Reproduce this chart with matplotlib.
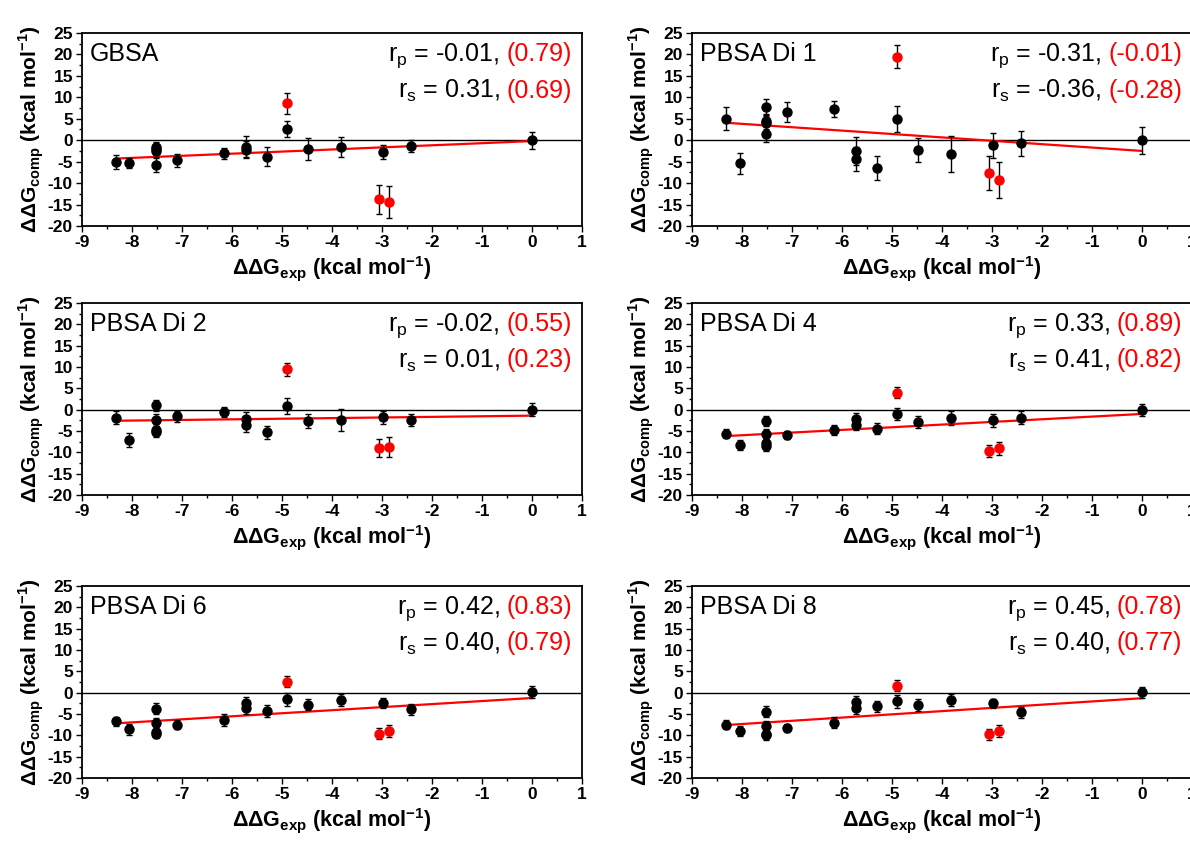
import numpy as np
import matplotlib
matplotlib.use("Agg")
import matplotlib.pyplot as plt
from matplotlib.ticker import MultipleLocator

plt.rcParams['font.family'] = ['Liberation Sans', 'DejaVu Sans']
plt.rcParams['mathtext.fontset'] = 'custom'
plt.rcParams['mathtext.rm'] = 'Liberation Sans'
plt.rcParams['mathtext.bf'] = 'Liberation Sans:bold'
plt.rcParams['axes.unicode_minus'] = False

# experimental ddG, shared by every panel
x_black = [-8.33, -8.05, -7.52, -7.52, -7.52, -7.52, -7.10, -6.17, -5.72, -5.72,
           -5.30, -4.90, -4.48, -3.82, -2.98, -2.42, 0.0]
x_red = [-4.90, -3.07, -2.87]

methods = ["GBSA", "PBSA Di 1", "PBSA Di 2", "PBSA Di 4", "PBSA Di 6", "PBSA Di 8"]

# computed ddG (black = kept, red = outliers)
y_gbsa = [-5.1, -5.3, -1.5, -2.0, -2.6, -5.8, -4.7, -3.0, -1.5, -2.2, -3.8, 2.6, -2.1, -1.6, -2.7, -1.3, 0.0]
y_di1 = [5.0, -5.4, 7.7, 4.4, 3.9, 1.5, 6.5, 7.2, -2.5, -4.3, -6.5, 5.0, -2.3, -3.2, -1.2, -0.7, 0.0]
y_di2 = [-1.9, -7.1, 1.0, -2.4, -4.7, -5.2, -1.6, -0.6, -2.3, -3.7, -5.3, 0.9, -2.6, -2.5, -1.8, -2.5, 0.0]
y_di4 = [-5.6, -8.3, -2.6, -5.6, -7.9, -8.4, -6.0, -4.8, -2.3, -3.5, -4.5, -1.0, -2.9, -2.0, -2.5, -1.9, 0.0]
y_di6 = [-6.7, -8.6, -3.8, -7.2, -9.2, -9.6, -7.5, -6.4, -2.4, -3.7, -4.3, -1.6, -2.8, -1.8, -2.4, -3.9, 0.1]
y_di8 = [-7.5, -9.0, -4.5, -7.8, -9.6, -10.0, -8.3, -7.0, -2.3, -3.7, -3.2, -2.0, -2.9, -1.7, -2.5, -4.6, 0.1]

e_gbsa = [1.6, 1.1, 1.2, 1.2, 1.2, 1.6, 1.5, 1.3, 2.5, 2.0, 2.3, 1.9, 2.6, 2.3, 1.6, 1.4, 2.0]
e_di1 = [2.7, 2.4, 1.8, 1.8, 1.8, 1.8, 2.3, 1.9, 3.2, 2.8, 2.8, 3.0, 2.8, 4.1, 2.9, 2.9, 3.1]
e_di2 = [1.5, 1.6, 1.3, 1.4, 1.3, 1.3, 1.4, 1.2, 1.8, 1.6, 1.5, 1.8, 1.6, 2.6, 1.5, 1.4, 1.5]
e_di4 = [1.0, 1.2, 1.2, 1.0, 1.1, 1.2, 0.9, 1.2, 1.6, 1.3, 1.3, 1.5, 1.3, 1.6, 1.5, 1.5, 1.4]
e_di6 = [1.0, 1.3, 1.3, 1.2, 1.1, 1.0, 1.0, 1.3, 1.5, 1.2, 1.3, 1.5, 1.3, 1.4, 1.2, 1.3, 1.4]
e_di8 = [1.0, 1.2, 1.3, 1.2, 1.1, 1.1, 1.0, 1.3, 1.5, 1.2, 1.3, 1.5, 1.3, 1.4, 1.1, 1.3, 1.3]

yr_gbsa = [8.6, -13.8, -14.4]
yr_di1 = [19.5, -7.7, -9.3]
yr_di2 = [9.5, -9.0, -8.8]
yr_di4 = [4.0, -9.7, -9.1]
yr_di6 = [2.6, -9.6, -9.0]
yr_di8 = [1.6, -9.7, -9.0]

er_gbsa = [2.5, 3.4, 3.7]
er_di1 = [2.6, 4.0, 4.2]
er_di2 = [1.5, 2.2, 2.3]
er_di4 = [1.2, 1.5, 1.6]
er_di6 = [1.3, 1.3, 1.4]
er_di8 = [1.3, 1.3, 1.4]

# linear fits (slope, intercept)
fit_slope = [0.49, -0.79, 0.144, 0.624, 0.714, 0.756]
fit_icpt = [-0.2, -2.5, -1.4, -1.0, -1.25, -1.3]

rp = ["-0.01", "-0.31", "-0.02", "0.33", "0.42", "0.45"]
rp_all = ["0.79", "-0.01", "0.55", "0.89", "0.83", "0.78"]
rs = ["0.31", "-0.36", "0.01", "0.41", "0.40", "0.40"]
rs_all = ["0.69", "-0.28", "0.23", "0.82", "0.79", "0.77"]

ys = [y_gbsa, y_di1, y_di2, y_di4, y_di6, y_di8]
es = [e_gbsa, e_di1, e_di2, e_di4, e_di6, e_di8]
yrs = [yr_gbsa, yr_di1, yr_di2, yr_di4, yr_di6, yr_di8]
ers = [er_gbsa, er_di1, er_di2, er_di4, er_di6, er_di8]

fig = plt.figure(figsize=(11.9, 8.42), dpi=100)
W, H = 1190, 842
lefts = [82, 692]
tops = [33, 303, 586]
bottoms = [226, 495, 778]

renderer = fig.canvas.get_renderer()


def corr_line(ax, y, name, black, red):
    r = ax.text(0.98, y, "(" + red + ")", transform=ax.transAxes, ha='right',
                va='baseline', color='red', fontsize=18)
    bb = r.get_window_extent(renderer)
    # leave a space-wide gap before the bracket
    x0 = ax.transAxes.inverted().transform((bb.x0 - 7, bb.y0))[0]
    ax.text(x0, y, "r$_\\mathregular{" + name + "}$ = " + black + ",",
            transform=ax.transAxes, ha='right', va='baseline', color='black', fontsize=18)


for i in range(6):
    row, col = divmod(i, 2)
    l = lefts[col]
    ax = fig.add_axes([l / W, 1 - bottoms[row] / H, 500 / W, (bottoms[row] - tops[row]) / H])
    ax.set_xlim(-9, 1)
    ax.set_ylim(-20, 25)
    ax.axhline(0, color='black', lw=1.0, zorder=1)

    xf = np.array([-8.33, 0.0])
    ax.plot(xf, fit_slope[i] * xf + fit_icpt[i], color='red', lw=1.6, zorder=2)

    ax.errorbar(x_black, ys[i], yerr=es[i], fmt='o', color='black', ms=6.5,
                ecolor='black', elinewidth=1, capsize=2.5, capthick=1, zorder=3)
    ax.errorbar(x_red, yrs[i], yerr=ers[i], fmt='o', color='red', mec='red', ms=6.5,
                ecolor='black', elinewidth=1, capsize=2.5, capthick=1, zorder=3)

    ax.xaxis.set_major_locator(MultipleLocator(1))
    ax.xaxis.set_minor_locator(MultipleLocator(0.5))
    ax.yaxis.set_major_locator(MultipleLocator(5))
    ax.yaxis.set_minor_locator(MultipleLocator(2.5))
    ax.tick_params(which='major', direction='out', length=4, width=1, labelsize=12.5, pad=2.5)
    ax.tick_params(which='minor', direction='out', length=2.5, width=1)
    for lab in ax.get_xticklabels() + ax.get_yticklabels():
        lab.set_fontweight('bold')
    for sp in ax.spines.values():
        sp.set_linewidth(1.3)

    ax.set_xlabel("ΔΔG$_\\mathbf{exp}$ (kcal mol$^\\mathbf{-1}$)", fontsize=15.5,
                  fontweight='bold', labelpad=3)
    ax.set_ylabel("ΔΔG$_\\mathbf{comp}$ (kcal mol$^\\mathbf{-1}$)", fontsize=15,
                  fontweight='bold', labelpad=1)

    ax.text(0.016, 0.855, methods[i], transform=ax.transAxes, ha='left',
            va='baseline', fontsize=18)
    corr_line(ax, 0.855, "p", rp[i], rp_all[i])
    corr_line(ax, 0.665, "s", rs[i], rs_all[i])

fig.savefig("out.png", dpi=100)
